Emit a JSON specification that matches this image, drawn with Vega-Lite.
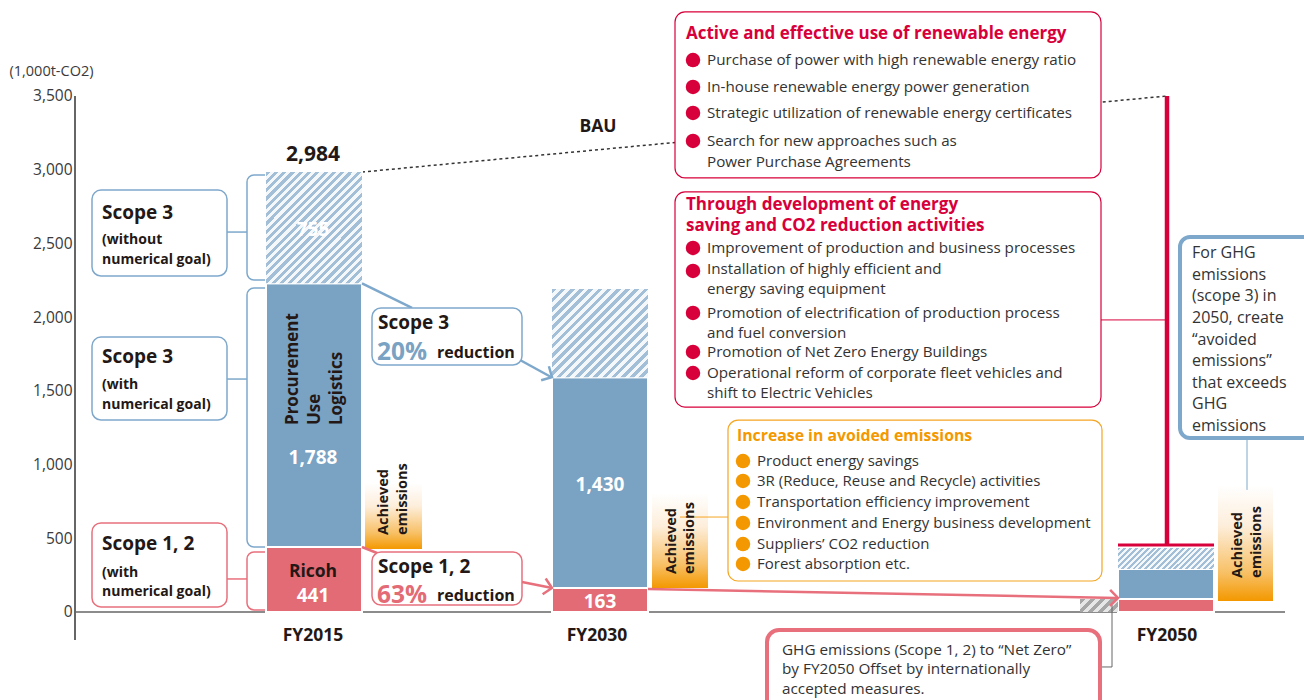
{
  "$schema": "https://vega.github.io/schema/vega-lite/v6.json",
  "width": 1229,
  "height": 700,
  "autosize": {"type": "none"},
  "padding": {"left": 75, "top": 0, "right": 0, "bottom": 0},
  "background": "white",
  "config": {
    "view": {"stroke": null},
    "text": {"font": "Open Sans"}
  },
  "datasets": {
    "bars": [
      {"year": "FY2015", "seg": "Scope 1, 2", "x": 266, "x2": 362, "y": 0, "y2": 441},
      {"year": "FY2015", "seg": "Scope 3 (with numerical goal)", "x": 266, "x2": 362, "y": 441, "y2": 2229},
      {"year": "FY2015", "seg": "Scope 3 (without numerical goal)", "x": 266, "x2": 362, "y": 2229, "y2": 2984},
      {"year": "FY2030", "seg": "Scope 1, 2", "x": 552, "x2": 648, "y": 0, "y2": 163},
      {"year": "FY2030", "seg": "Scope 3 (with numerical goal)", "x": 552, "x2": 648, "y": 163, "y2": 1593},
      {"year": "FY2030", "seg": "Scope 3 (without numerical goal)", "x": 552, "x2": 648, "y": 1593, "y2": 2190},
      {"year": "FY2050", "seg": "Scope 1, 2", "x": 1118, "x2": 1214, "y": 0, "y2": 88},
      {"year": "FY2050", "seg": "Scope 3 (with numerical goal)", "x": 1118, "x2": 1214, "y": 88, "y2": 292},
      {"year": "FY2050", "seg": "Scope 3 (without numerical goal)", "x": 1118, "x2": 1214, "y": 292, "y2": 434},
      {"year": "FY2050", "seg": "Offset", "x": 1080, "x2": 1118, "y": 0, "y2": 88}
    ]
  },
  "encoding": {
    "x": {"field": "x", "type": "quantitative", "scale": {"domain": [75, 1304], "nice": false, "zero": false}, "axis": null},
    "y": {"field": "y", "type": "quantitative", "scale": {"domain": [-597, 4151], "nice": false, "zero": false},
      "axis": {"values": [0, 500, 1000, 1500, 2000, 2500, 3000, 3500], "format": ",d", "domain": false, "ticks": false, "grid": false,
        "labelFont": "Open Sans", "labelFontSize": 15.5, "labelColor": "#3a3a3a", "labelPadding": 3,
        "title": "(1,000t-CO2)", "titleAngle": 0, "titleAlign": "left", "titleBaseline": "middle", "titleX": -66, "titleY": 71,
        "titleFont": "Open Sans", "titleFontSize": 14.5, "titleFontWeight": "normal", "titleColor": "#3a3a3a"}}
  },
  "layer": [
    {
      "data": {"values": [{"x": 75, "y": 3500, "x2": 75, "y2": -190}]},
      "mark": {"type": "rule", "color": "#333333", "strokeWidth": 1.5},
      "encoding": {"x2": {"field": "x2"}, "y2": {"field": "y2"}}
    },
    {
      "data": {"values": [{"x": 75, "y": 0, "x2": 1285, "y2": 0}]},
      "mark": {"type": "rule", "color": "#666666", "strokeWidth": 1.5},
      "encoding": {"x2": {"field": "x2"}, "y2": {"field": "y2"}}
    },
    {
      "data": {"values": [{"x": 247, "x2": 292, "y": 2964, "y2": 2252}, {"x": 247, "x2": 292, "y": 2198, "y2": 441}]},
      "mark": {"type": "rect", "fill": "white", "stroke": "#7ea8cb", "strokeWidth": 1.5, "cornerRadius": 7},
      "encoding": {"x2": {"field": "x2"}, "y2": {"field": "y2"}}
    },
    {
      "data": {"values": [{"x": 247, "x2": 292, "y": 407, "y2": 14}]},
      "mark": {"type": "rect", "fill": "white", "stroke": "#e8707d", "strokeWidth": 1.5, "cornerRadius": 7},
      "encoding": {"x2": {"field": "x2"}, "y2": {"field": "y2"}}
    },
    {
      "data": {"values": [{"x": 227, "y": 2577, "x2": 247, "y2": 2577}, {"x": 227, "y": 1580, "x2": 247, "y2": 1580}]},
      "mark": {"type": "rule", "color": "#7ea8cb", "strokeWidth": 1.5},
      "encoding": {"x2": {"field": "x2"}, "y2": {"field": "y2"}}
    },
    {
      "data": {"values": [{"x": 227, "y": 224, "x2": 247, "y2": 224}]},
      "mark": {"type": "rule", "color": "#e8707d", "strokeWidth": 1.5},
      "encoding": {"x2": {"field": "x2"}, "y2": {"field": "y2"}}
    },
    {
      "data": {"values": [{"x": 362, "y": 2984, "x2": 1167, "y2": 3500}]},
      "mark": {"type": "rule", "color": "#333333", "strokeWidth": 1.5, "strokeDash": [3, 3]},
      "encoding": {"x2": {"field": "x2"}, "y2": {"field": "y2"}}
    },
    {
      "data": {"name": "bars"},
      "transform": [{"filter": "datum.seg != 'Offset'"}],
      "mark": {"type": "rect", "stroke": "white", "strokeWidth": 2},
      "encoding": {
        "x2": {"field": "x2"}, "y2": {"field": "y2"},
        "color": {"field": "seg", "type": "nominal", "legend": null,
          "scale": {"domain": ["Scope 1, 2", "Scope 3 (with numerical goal)", "Scope 3 (without numerical goal)"], "range": ["#e36b75", "#79a2c3", "#c0d4e4"]}}
      }
    },
    {
      "data": {"name": "bars"},
      "transform": [{"filter": "datum.year == 'FY2015' && datum.seg == 'Scope 3 (without numerical goal)'"}],
      "mark": {"type": "rect", "fill": {"gradient": "linear", "x1": 0, "y1": 0, "x2": 0.9227, "y2": 1.0669, "stops": [
        {"offset": 0, "color": "#a3bfd7"}, {"offset": 0.02, "color": "#a3bfd7"}, {"offset": 0.02, "color": "#f4f8fb"}, {"offset": 0.04, "color": "#f4f8fb"},
        {"offset": 0.04, "color": "#a3bfd7"}, {"offset": 0.06, "color": "#a3bfd7"}, {"offset": 0.06, "color": "#f4f8fb"}, {"offset": 0.08, "color": "#f4f8fb"},
        {"offset": 0.08, "color": "#a3bfd7"}, {"offset": 0.1, "color": "#a3bfd7"}, {"offset": 0.1, "color": "#f4f8fb"}, {"offset": 0.12, "color": "#f4f8fb"},
        {"offset": 0.12, "color": "#a3bfd7"}, {"offset": 0.14, "color": "#a3bfd7"}, {"offset": 0.14, "color": "#f4f8fb"}, {"offset": 0.16, "color": "#f4f8fb"},
        {"offset": 0.16, "color": "#a3bfd7"}, {"offset": 0.18, "color": "#a3bfd7"}, {"offset": 0.18, "color": "#f4f8fb"}, {"offset": 0.2, "color": "#f4f8fb"},
        {"offset": 0.2, "color": "#a3bfd7"}, {"offset": 0.22, "color": "#a3bfd7"}, {"offset": 0.22, "color": "#f4f8fb"}, {"offset": 0.24, "color": "#f4f8fb"},
        {"offset": 0.24, "color": "#a3bfd7"}, {"offset": 0.26, "color": "#a3bfd7"}, {"offset": 0.26, "color": "#f4f8fb"}, {"offset": 0.28, "color": "#f4f8fb"},
        {"offset": 0.28, "color": "#a3bfd7"}, {"offset": 0.3, "color": "#a3bfd7"}, {"offset": 0.3, "color": "#f4f8fb"}, {"offset": 0.32, "color": "#f4f8fb"},
        {"offset": 0.32, "color": "#a3bfd7"}, {"offset": 0.34, "color": "#a3bfd7"}, {"offset": 0.34, "color": "#f4f8fb"}, {"offset": 0.36, "color": "#f4f8fb"},
        {"offset": 0.36, "color": "#a3bfd7"}, {"offset": 0.38, "color": "#a3bfd7"}, {"offset": 0.38, "color": "#f4f8fb"}, {"offset": 0.4, "color": "#f4f8fb"},
        {"offset": 0.4, "color": "#a3bfd7"}, {"offset": 0.42, "color": "#a3bfd7"}, {"offset": 0.42, "color": "#f4f8fb"}, {"offset": 0.44, "color": "#f4f8fb"},
        {"offset": 0.44, "color": "#a3bfd7"}, {"offset": 0.46, "color": "#a3bfd7"}, {"offset": 0.46, "color": "#f4f8fb"}, {"offset": 0.48, "color": "#f4f8fb"},
        {"offset": 0.48, "color": "#a3bfd7"}, {"offset": 0.5, "color": "#a3bfd7"}, {"offset": 0.5, "color": "#f4f8fb"}, {"offset": 0.52, "color": "#f4f8fb"},
        {"offset": 0.52, "color": "#a3bfd7"}, {"offset": 0.54, "color": "#a3bfd7"}, {"offset": 0.54, "color": "#f4f8fb"}, {"offset": 0.56, "color": "#f4f8fb"},
        {"offset": 0.56, "color": "#a3bfd7"}, {"offset": 0.58, "color": "#a3bfd7"}, {"offset": 0.58, "color": "#f4f8fb"}, {"offset": 0.6, "color": "#f4f8fb"},
        {"offset": 0.6, "color": "#a3bfd7"}, {"offset": 0.62, "color": "#a3bfd7"}, {"offset": 0.62, "color": "#f4f8fb"}, {"offset": 0.64, "color": "#f4f8fb"},
        {"offset": 0.64, "color": "#a3bfd7"}, {"offset": 0.66, "color": "#a3bfd7"}, {"offset": 0.66, "color": "#f4f8fb"}, {"offset": 0.68, "color": "#f4f8fb"},
        {"offset": 0.68, "color": "#a3bfd7"}, {"offset": 0.7, "color": "#a3bfd7"}, {"offset": 0.7, "color": "#f4f8fb"}, {"offset": 0.72, "color": "#f4f8fb"},
        {"offset": 0.72, "color": "#a3bfd7"}, {"offset": 0.74, "color": "#a3bfd7"}, {"offset": 0.74, "color": "#f4f8fb"}, {"offset": 0.76, "color": "#f4f8fb"},
        {"offset": 0.76, "color": "#a3bfd7"}, {"offset": 0.78, "color": "#a3bfd7"}, {"offset": 0.78, "color": "#f4f8fb"}, {"offset": 0.8, "color": "#f4f8fb"},
        {"offset": 0.8, "color": "#a3bfd7"}, {"offset": 0.82, "color": "#a3bfd7"}, {"offset": 0.82, "color": "#f4f8fb"}, {"offset": 0.84, "color": "#f4f8fb"},
        {"offset": 0.84, "color": "#a3bfd7"}, {"offset": 0.86, "color": "#a3bfd7"}, {"offset": 0.86, "color": "#f4f8fb"}, {"offset": 0.88, "color": "#f4f8fb"},
        {"offset": 0.88, "color": "#a3bfd7"}, {"offset": 0.9, "color": "#a3bfd7"}, {"offset": 0.9, "color": "#f4f8fb"}, {"offset": 0.92, "color": "#f4f8fb"},
        {"offset": 0.92, "color": "#a3bfd7"}, {"offset": 0.94, "color": "#a3bfd7"}, {"offset": 0.94, "color": "#f4f8fb"}, {"offset": 0.96, "color": "#f4f8fb"},
        {"offset": 0.96, "color": "#a3bfd7"}, {"offset": 0.98, "color": "#a3bfd7"}, {"offset": 0.98, "color": "#f4f8fb"}, {"offset": 1, "color": "#f4f8fb"}
      ]}},
      "encoding": {"x2": {"field": "x2"}, "y2": {"field": "y2"}}
    },
    {
      "data": {"name": "bars"},
      "transform": [{"filter": "datum.year == 'FY2030' && datum.seg == 'Scope 3 (without numerical goal)'"}],
      "mark": {"type": "rect", "fill": {"gradient": "linear", "x1": 0, "y1": 0, "x2": 1.0415, "y2": 0.9547, "stops": [
        {"offset": 0, "color": "#a3bfd7"}, {"offset": 0.025, "color": "#a3bfd7"}, {"offset": 0.025, "color": "#f4f8fb"}, {"offset": 0.05, "color": "#f4f8fb"},
        {"offset": 0.05, "color": "#a3bfd7"}, {"offset": 0.075, "color": "#a3bfd7"}, {"offset": 0.075, "color": "#f4f8fb"}, {"offset": 0.1, "color": "#f4f8fb"},
        {"offset": 0.1, "color": "#a3bfd7"}, {"offset": 0.125, "color": "#a3bfd7"}, {"offset": 0.125, "color": "#f4f8fb"}, {"offset": 0.15, "color": "#f4f8fb"},
        {"offset": 0.15, "color": "#a3bfd7"}, {"offset": 0.175, "color": "#a3bfd7"}, {"offset": 0.175, "color": "#f4f8fb"}, {"offset": 0.2, "color": "#f4f8fb"},
        {"offset": 0.2, "color": "#a3bfd7"}, {"offset": 0.225, "color": "#a3bfd7"}, {"offset": 0.225, "color": "#f4f8fb"}, {"offset": 0.25, "color": "#f4f8fb"},
        {"offset": 0.25, "color": "#a3bfd7"}, {"offset": 0.275, "color": "#a3bfd7"}, {"offset": 0.275, "color": "#f4f8fb"}, {"offset": 0.3, "color": "#f4f8fb"},
        {"offset": 0.3, "color": "#a3bfd7"}, {"offset": 0.325, "color": "#a3bfd7"}, {"offset": 0.325, "color": "#f4f8fb"}, {"offset": 0.35, "color": "#f4f8fb"},
        {"offset": 0.35, "color": "#a3bfd7"}, {"offset": 0.375, "color": "#a3bfd7"}, {"offset": 0.375, "color": "#f4f8fb"}, {"offset": 0.4, "color": "#f4f8fb"},
        {"offset": 0.4, "color": "#a3bfd7"}, {"offset": 0.425, "color": "#a3bfd7"}, {"offset": 0.425, "color": "#f4f8fb"}, {"offset": 0.45, "color": "#f4f8fb"},
        {"offset": 0.45, "color": "#a3bfd7"}, {"offset": 0.475, "color": "#a3bfd7"}, {"offset": 0.475, "color": "#f4f8fb"}, {"offset": 0.5, "color": "#f4f8fb"},
        {"offset": 0.5, "color": "#a3bfd7"}, {"offset": 0.525, "color": "#a3bfd7"}, {"offset": 0.525, "color": "#f4f8fb"}, {"offset": 0.55, "color": "#f4f8fb"},
        {"offset": 0.55, "color": "#a3bfd7"}, {"offset": 0.575, "color": "#a3bfd7"}, {"offset": 0.575, "color": "#f4f8fb"}, {"offset": 0.6, "color": "#f4f8fb"},
        {"offset": 0.6, "color": "#a3bfd7"}, {"offset": 0.625, "color": "#a3bfd7"}, {"offset": 0.625, "color": "#f4f8fb"}, {"offset": 0.65, "color": "#f4f8fb"},
        {"offset": 0.65, "color": "#a3bfd7"}, {"offset": 0.675, "color": "#a3bfd7"}, {"offset": 0.675, "color": "#f4f8fb"}, {"offset": 0.7, "color": "#f4f8fb"},
        {"offset": 0.7, "color": "#a3bfd7"}, {"offset": 0.725, "color": "#a3bfd7"}, {"offset": 0.725, "color": "#f4f8fb"}, {"offset": 0.75, "color": "#f4f8fb"},
        {"offset": 0.75, "color": "#a3bfd7"}, {"offset": 0.775, "color": "#a3bfd7"}, {"offset": 0.775, "color": "#f4f8fb"}, {"offset": 0.8, "color": "#f4f8fb"},
        {"offset": 0.8, "color": "#a3bfd7"}, {"offset": 0.825, "color": "#a3bfd7"}, {"offset": 0.825, "color": "#f4f8fb"}, {"offset": 0.85, "color": "#f4f8fb"},
        {"offset": 0.85, "color": "#a3bfd7"}, {"offset": 0.875, "color": "#a3bfd7"}, {"offset": 0.875, "color": "#f4f8fb"}, {"offset": 0.9, "color": "#f4f8fb"},
        {"offset": 0.9, "color": "#a3bfd7"}, {"offset": 0.925, "color": "#a3bfd7"}, {"offset": 0.925, "color": "#f4f8fb"}, {"offset": 0.95, "color": "#f4f8fb"},
        {"offset": 0.95, "color": "#a3bfd7"}, {"offset": 0.975, "color": "#a3bfd7"}, {"offset": 0.975, "color": "#f4f8fb"}, {"offset": 1, "color": "#f4f8fb"}
      ]}},
      "encoding": {"x2": {"field": "x2"}, "y2": {"field": "y2"}}
    },
    {
      "data": {"name": "bars"},
      "transform": [{"filter": "datum.year == 'FY2050' && datum.seg == 'Scope 3 (without numerical goal)'"}],
      "mark": {"type": "rect", "fill": {"gradient": "linear", "x1": 0, "y1": 0, "x2": 1.1631, "y2": 0.2544, "stops": [
        {"offset": 0, "color": "#a3bfd7"}, {"offset": 0.025, "color": "#a3bfd7"}, {"offset": 0.025, "color": "#f4f8fb"}, {"offset": 0.05, "color": "#f4f8fb"},
        {"offset": 0.05, "color": "#a3bfd7"}, {"offset": 0.075, "color": "#a3bfd7"}, {"offset": 0.075, "color": "#f4f8fb"}, {"offset": 0.1, "color": "#f4f8fb"},
        {"offset": 0.1, "color": "#a3bfd7"}, {"offset": 0.125, "color": "#a3bfd7"}, {"offset": 0.125, "color": "#f4f8fb"}, {"offset": 0.15, "color": "#f4f8fb"},
        {"offset": 0.15, "color": "#a3bfd7"}, {"offset": 0.175, "color": "#a3bfd7"}, {"offset": 0.175, "color": "#f4f8fb"}, {"offset": 0.2, "color": "#f4f8fb"},
        {"offset": 0.2, "color": "#a3bfd7"}, {"offset": 0.225, "color": "#a3bfd7"}, {"offset": 0.225, "color": "#f4f8fb"}, {"offset": 0.25, "color": "#f4f8fb"},
        {"offset": 0.25, "color": "#a3bfd7"}, {"offset": 0.275, "color": "#a3bfd7"}, {"offset": 0.275, "color": "#f4f8fb"}, {"offset": 0.3, "color": "#f4f8fb"},
        {"offset": 0.3, "color": "#a3bfd7"}, {"offset": 0.325, "color": "#a3bfd7"}, {"offset": 0.325, "color": "#f4f8fb"}, {"offset": 0.35, "color": "#f4f8fb"},
        {"offset": 0.35, "color": "#a3bfd7"}, {"offset": 0.375, "color": "#a3bfd7"}, {"offset": 0.375, "color": "#f4f8fb"}, {"offset": 0.4, "color": "#f4f8fb"},
        {"offset": 0.4, "color": "#a3bfd7"}, {"offset": 0.425, "color": "#a3bfd7"}, {"offset": 0.425, "color": "#f4f8fb"}, {"offset": 0.45, "color": "#f4f8fb"},
        {"offset": 0.45, "color": "#a3bfd7"}, {"offset": 0.475, "color": "#a3bfd7"}, {"offset": 0.475, "color": "#f4f8fb"}, {"offset": 0.5, "color": "#f4f8fb"},
        {"offset": 0.5, "color": "#a3bfd7"}, {"offset": 0.525, "color": "#a3bfd7"}, {"offset": 0.525, "color": "#f4f8fb"}, {"offset": 0.55, "color": "#f4f8fb"},
        {"offset": 0.55, "color": "#a3bfd7"}, {"offset": 0.575, "color": "#a3bfd7"}, {"offset": 0.575, "color": "#f4f8fb"}, {"offset": 0.6, "color": "#f4f8fb"},
        {"offset": 0.6, "color": "#a3bfd7"}, {"offset": 0.625, "color": "#a3bfd7"}, {"offset": 0.625, "color": "#f4f8fb"}, {"offset": 0.65, "color": "#f4f8fb"},
        {"offset": 0.65, "color": "#a3bfd7"}, {"offset": 0.675, "color": "#a3bfd7"}, {"offset": 0.675, "color": "#f4f8fb"}, {"offset": 0.7, "color": "#f4f8fb"},
        {"offset": 0.7, "color": "#a3bfd7"}, {"offset": 0.725, "color": "#a3bfd7"}, {"offset": 0.725, "color": "#f4f8fb"}, {"offset": 0.75, "color": "#f4f8fb"},
        {"offset": 0.75, "color": "#a3bfd7"}, {"offset": 0.775, "color": "#a3bfd7"}, {"offset": 0.775, "color": "#f4f8fb"}, {"offset": 0.8, "color": "#f4f8fb"},
        {"offset": 0.8, "color": "#a3bfd7"}, {"offset": 0.825, "color": "#a3bfd7"}, {"offset": 0.825, "color": "#f4f8fb"}, {"offset": 0.85, "color": "#f4f8fb"},
        {"offset": 0.85, "color": "#a3bfd7"}, {"offset": 0.875, "color": "#a3bfd7"}, {"offset": 0.875, "color": "#f4f8fb"}, {"offset": 0.9, "color": "#f4f8fb"},
        {"offset": 0.9, "color": "#a3bfd7"}, {"offset": 0.925, "color": "#a3bfd7"}, {"offset": 0.925, "color": "#f4f8fb"}, {"offset": 0.95, "color": "#f4f8fb"},
        {"offset": 0.95, "color": "#a3bfd7"}, {"offset": 0.975, "color": "#a3bfd7"}, {"offset": 0.975, "color": "#f4f8fb"}, {"offset": 1, "color": "#f4f8fb"}
      ]}},
      "encoding": {"x2": {"field": "x2"}, "y2": {"field": "y2"}}
    },
    {
      "data": {"name": "bars"},
      "transform": [{"filter": "datum.seg == 'Offset'"}],
      "mark": {"type": "rect", "fill": {"gradient": "linear", "x1": 0, "y1": 0, "x2": 1.2015, "y2": 0.411, "stops": [
        {"offset": 0, "color": "#a6a6a6"}, {"offset": 0.1, "color": "#a6a6a6"}, {"offset": 0.1, "color": "#e6e6e6"}, {"offset": 0.2, "color": "#e6e6e6"},
        {"offset": 0.2, "color": "#a6a6a6"}, {"offset": 0.3, "color": "#a6a6a6"}, {"offset": 0.3, "color": "#e6e6e6"}, {"offset": 0.4, "color": "#e6e6e6"},
        {"offset": 0.4, "color": "#a6a6a6"}, {"offset": 0.5, "color": "#a6a6a6"}, {"offset": 0.5, "color": "#e6e6e6"}, {"offset": 0.6, "color": "#e6e6e6"},
        {"offset": 0.6, "color": "#a6a6a6"}, {"offset": 0.7, "color": "#a6a6a6"}, {"offset": 0.7, "color": "#e6e6e6"}, {"offset": 0.8, "color": "#e6e6e6"},
        {"offset": 0.8, "color": "#a6a6a6"}, {"offset": 0.9, "color": "#a6a6a6"}, {"offset": 0.9, "color": "#e6e6e6"}, {"offset": 1, "color": "#e6e6e6"}
      ]}},
      "encoding": {"x2": {"field": "x2"}, "y2": {"field": "y2"}}
    },
    {
      "data": {"values": [
        {"x": 365, "x2": 422, "y": 875, "y2": 427},
        {"x": 652, "x2": 708, "y": 807, "y2": 163},
        {"x": 1218, "x2": 1273, "y": 861, "y2": 75}
      ]},
      "mark": {"type": "rect", "fill": {"gradient": "linear", "x1": 0, "y1": 0, "x2": 0, "y2": 1,
        "stops": [{"offset": 0, "color": "#ffffff"}, {"offset": 0.35, "color": "#fdeedb"}, {"offset": 0.75, "color": "#f8c168"}, {"offset": 1, "color": "#f39800"}]}},
      "encoding": {"x2": {"field": "x2"}, "y2": {"field": "y2"}}
    },
    {
      "data": {"values": [{"x": 362, "y": 2229, "x2": 412, "y2": 2062}, {"x": 520, "y": 1709, "x2": 551, "y2": 1594}]},
      "mark": {"type": "rule", "color": "#7ea8cb", "strokeWidth": 2.5},
      "encoding": {"x2": {"field": "x2"}, "y2": {"field": "y2"}}
    },
    {
      "data": {"values": [{"x": 362, "y": 441, "x2": 377, "y2": 400}, {"x": 522, "y": 204, "x2": 551, "y2": 164}, {"x": 648, "y": 156, "x2": 1117, "y2": 95}]},
      "mark": {"type": "rule", "color": "#e8707d", "strokeWidth": 2.5},
      "encoding": {"x2": {"field": "x2"}, "y2": {"field": "y2"}}
    },
    {
      "data": {"values": [{"x": 1167, "y": 452, "x2": 1167, "y2": 3500}]},
      "mark": {"type": "rule", "color": "#d7003a", "strokeWidth": 4.5},
      "encoding": {"x2": {"field": "x2"}, "y2": {"field": "y2"}}
    },
    {
      "data": {"values": [{"x": 1118, "y": 454, "x2": 1214, "y2": 454}]},
      "mark": {"type": "rule", "color": "#d7003a", "strokeWidth": 3},
      "encoding": {"x2": {"field": "x2"}, "y2": {"field": "y2"}}
    },
    {
      "data": {"values": [{"x": 1101, "y": 1981, "x2": 1167, "y2": 1981}]},
      "mark": {"type": "rule", "color": "#d7003a", "strokeWidth": 1},
      "encoding": {"x2": {"field": "x2"}, "y2": {"field": "y2"}}
    },
    {
      "data": {"values": [{"x": 680, "y": 644, "x2": 728, "y2": 644}]},
      "mark": {"type": "rule", "color": "#f5a623", "strokeWidth": 1},
      "encoding": {"x2": {"field": "x2"}, "y2": {"field": "y2"}}
    },
    {
      "data": {"values": [{"x": 1247, "y": 1180, "x2": 1247, "y2": 828}]},
      "mark": {"type": "rule", "color": "#7ea8cb", "strokeWidth": 1},
      "encoding": {"x2": {"field": "x2"}, "y2": {"field": "y2"}}
    },
    {
      "data": {"values": [{"x": 1112, "y": 47, "x2": 1112, "y2": -373}, {"x": 1112, "y": -373, "x2": 1100, "y2": -373}]},
      "mark": {"type": "rule", "color": "#666666", "strokeWidth": 1},
      "encoding": {"x2": {"field": "x2"}, "y2": {"field": "y2"}}
    },
    {
      "data": {"values": [{"x": 675, "x2": 1101, "y": 4070, "y2": 2944}, {"x": 675, "x2": 1101, "y": 2849, "y2": 1390}]},
      "mark": {"type": "rect", "fill": "white", "stroke": "#d7003a", "strokeWidth": 1.2, "cornerRadius": 10},
      "encoding": {"x2": {"field": "x2"}, "y2": {"field": "y2"}}
    },
    {
      "data": {"values": [{"x": 728, "x2": 1102, "y": 1302, "y2": 210}]},
      "mark": {"type": "rect", "fill": "white", "stroke": "#f5a623", "strokeWidth": 1.2, "cornerRadius": 10},
      "encoding": {"x2": {"field": "x2"}, "y2": {"field": "y2"}}
    },
    {
      "data": {"values": [{"x": 92, "x2": 227, "y": 2862, "y2": 2279}, {"x": 92, "x2": 227, "y": 1865, "y2": 1302}, {"x": 372, "x2": 522, "y": 2062, "y2": 1675}]},
      "mark": {"type": "rect", "fill": "white", "stroke": "#7ea8cb", "strokeWidth": 1.5, "cornerRadius": 9},
      "encoding": {"x2": {"field": "x2"}, "y2": {"field": "y2"}}
    },
    {
      "data": {"values": [{"x": 92, "x2": 227, "y": 604, "y2": 34}, {"x": 372, "x2": 522, "y": 407, "y2": 47}]},
      "mark": {"type": "rect", "fill": "white", "stroke": "#e8707d", "strokeWidth": 1.5, "cornerRadius": 9},
      "encoding": {"x2": {"field": "x2"}, "y2": {"field": "y2"}}
    },
    {
      "data": {"values": [{"x": 1180, "x2": 1340, "y": 2544, "y2": 1180}]},
      "mark": {"type": "rect", "fill": "white", "stroke": "#7ea8cb", "strokeWidth": 4, "cornerRadius": 10},
      "encoding": {"x2": {"field": "x2"}, "y2": {"field": "y2"}}
    },
    {
      "data": {"values": [{"x": 767, "x2": 1100, "y": -122, "y2": -800}]},
      "mark": {"type": "rect", "fill": "white", "stroke": "#e8707d", "strokeWidth": 4, "cornerRadius": 12},
      "encoding": {"x2": {"field": "x2"}, "y2": {"field": "y2"}}
    },
    {
      "data": {"values": [{"x": 552, "y": 1593, "angle": 29}]},
      "mark": {"type": "point", "shape": "M-1,-1L0,0L-1,1", "filled": false, "size": 256, "color": "#7ea8cb", "strokeWidth": 2.5, "opacity": 1},
      "encoding": {"angle": {"field": "angle", "type": "quantitative", "scale": null}}
    },
    {
      "data": {"values": [{"x": 552, "y": 163, "angle": 11}, {"x": 1118, "y": 95, "angle": 1}]},
      "mark": {"type": "point", "shape": "M-1,-1L0,0L-1,1", "filled": false, "size": 256, "color": "#e8707d", "strokeWidth": 2.5, "opacity": 1},
      "encoding": {"angle": {"field": "angle", "type": "quantitative", "scale": null}}
    },
    {
      "data": {"values": [
        {"x": 693, "y": 3744}, {"x": 693, "y": 3561}, {"x": 693, "y": 3385}, {"x": 693, "y": 3195},
        {"x": 693, "y": 2469}, {"x": 693, "y": 2313}, {"x": 693, "y": 2028}, {"x": 693, "y": 1764}, {"x": 693, "y": 1621}
      ]},
      "mark": {"type": "point", "shape": "circle", "filled": true, "size": 210, "color": "#d7003a", "opacity": 1}
    },
    {
      "data": {"values": [
        {"x": 743, "y": 1024}, {"x": 743, "y": 889}, {"x": 743, "y": 746}, {"x": 743, "y": 604}, {"x": 743, "y": 461}, {"x": 743, "y": 326}
      ]},
      "mark": {"type": "point", "shape": "circle", "filled": true, "size": 210, "color": "#f39800", "opacity": 1}
    },
    {
      "data": {"values": [
        {"x": 102, "y": 2706, "t": "Scope 3"}, {"x": 102, "y": 1730, "t": "Scope 3"}, {"x": 102, "y": 461, "t": "Scope 1, 2"},
        {"x": 378, "y": 1960, "t": "Scope 3"}, {"x": 378, "y": 305, "t": "Scope 1, 2"}
      ]},
      "mark": {"type": "text", "font": "Open Sans", "fontSize": 19, "fontWeight": "bold", "color": "#231815", "align": "left", "baseline": "middle"},
      "encoding": {"text": {"field": "t"}}
    },
    {
      "data": {"values": [
        {"x": 102, "y": 2523, "t": "(without"}, {"x": 102, "y": 2388, "t": "numerical goal)"},
        {"x": 102, "y": 1540, "t": "(with"}, {"x": 102, "y": 1404, "t": "numerical goal)"},
        {"x": 102, "y": 265, "t": "(with"}, {"x": 102, "y": 136, "t": "numerical goal)"}
      ]},
      "mark": {"type": "text", "font": "Open Sans", "fontSize": 14, "fontWeight": "bold", "color": "#231815", "align": "left", "baseline": "middle"},
      "encoding": {"text": {"field": "t"}}
    },
    {
      "data": {"values": [{"x": 377, "y": 1760, "t": "20%"}]},
      "mark": {"type": "text", "font": "Open Sans", "fontSize": 24.5, "fontWeight": "bold", "color": "#79a2c3", "align": "left", "baseline": "middle"},
      "encoding": {"text": {"field": "t"}}
    },
    {
      "data": {"values": [{"x": 377, "y": 111, "t": "63%"}]},
      "mark": {"type": "text", "font": "Open Sans", "fontSize": 24.5, "fontWeight": "bold", "color": "#e36b75", "align": "left", "baseline": "middle"},
      "encoding": {"text": {"field": "t"}}
    },
    {
      "data": {"values": [{"x": 437, "y": 1757, "t": "reduction"}, {"x": 437, "y": 108, "t": "reduction"}]},
      "mark": {"type": "text", "font": "Open Sans", "fontSize": 16, "fontWeight": "bold", "color": "#231815", "align": "left", "baseline": "middle"},
      "encoding": {"text": {"field": "t"}}
    },
    {
      "data": {"values": [
        {"x": 686, "y": 3920, "t": "Active and effective use of renewable energy"},
        {"x": 686, "y": 2761, "t": "Through development of energy"},
        {"x": 686, "y": 2618, "t": "saving and CO2 reduction activities"}
      ]},
      "mark": {"type": "text", "font": "Open Sans", "fontSize": 17, "fontWeight": "bold", "color": "#d7003a", "align": "left", "baseline": "middle"},
      "encoding": {"text": {"field": "t"}}
    },
    {
      "data": {"values": [{"x": 737, "y": 1194, "t": "Increase in avoided emissions"}]},
      "mark": {"type": "text", "font": "Open Sans", "fontSize": 15.8, "fontWeight": "bold", "color": "#f39800", "align": "left", "baseline": "middle"},
      "encoding": {"text": {"field": "t"}}
    },
    {
      "data": {"values": [
        {"x": 707, "y": 3744, "t": "Purchase of power with high renewable energy ratio"},
        {"x": 707, "y": 3561, "t": "In-house renewable energy power generation"},
        {"x": 707, "y": 3385, "t": "Strategic utilization of renewable energy certificates"},
        {"x": 707, "y": 3195, "t": "Search for new approaches such as"},
        {"x": 707, "y": 3052, "t": "Power Purchase Agreements"},
        {"x": 707, "y": 2469, "t": "Improvement of production and business processes"},
        {"x": 707, "y": 2325, "t": "Installation of highly efficient and"},
        {"x": 707, "y": 2191, "t": "energy saving equipment"},
        {"x": 707, "y": 2028, "t": "Promotion of electrification of production process"},
        {"x": 707, "y": 1892, "t": "and fuel conversion"},
        {"x": 707, "y": 1764, "t": "Promotion of Net Zero Energy Buildings"},
        {"x": 707, "y": 1621, "t": "Operational reform of corporate fleet vehicles and"},
        {"x": 707, "y": 1485, "t": "shift to Electric Vehicles"}
      ]},
      "mark": {"type": "text", "font": "Open Sans", "fontSize": 15.2, "color": "#333333", "align": "left", "baseline": "middle"},
      "encoding": {"text": {"field": "t"}}
    },
    {
      "data": {"values": [
        {"x": 757, "y": 1024, "t": "Product energy savings"},
        {"x": 757, "y": 889, "t": "3R (Reduce, Reuse and Recycle) activities"},
        {"x": 757, "y": 746, "t": "Transportation efficiency improvement"},
        {"x": 757, "y": 604, "t": "Environment and Energy business development"},
        {"x": 757, "y": 461, "t": "Suppliers’ CO2 reduction"},
        {"x": 757, "y": 326, "t": "Forest absorption etc."}
      ]},
      "mark": {"type": "text", "font": "Open Sans", "fontSize": 15, "color": "#333333", "align": "left", "baseline": "middle"},
      "encoding": {"text": {"field": "t"}}
    },
    {
      "data": {"values": [
        {"x": 1192, "y": 2435, "t": "For GHG"},
        {"x": 1192, "y": 2286, "t": "emissions"},
        {"x": 1192, "y": 2143, "t": "(scope 3) in"},
        {"x": 1192, "y": 1994, "t": "2050, create"},
        {"x": 1192, "y": 1845, "t": "“avoided"},
        {"x": 1192, "y": 1702, "t": "emissions”"},
        {"x": 1192, "y": 1553, "t": "that exceeds"},
        {"x": 1192, "y": 1411, "t": "GHG"},
        {"x": 1192, "y": 1262, "t": "emissions"}
      ]},
      "mark": {"type": "text", "font": "Open Sans", "fontSize": 16, "color": "#333333", "align": "left", "baseline": "middle"},
      "encoding": {"text": {"field": "t"}}
    },
    {
      "data": {"values": [
        {"x": 782, "y": -258, "t": "GHG emissions (Scope 1, 2) to “Net Zero”"},
        {"x": 782, "y": -387, "t": "by FY2050 Offset by internationally"},
        {"x": 782, "y": -522, "t": "accepted measures."}
      ]},
      "mark": {"type": "text", "font": "Open Sans", "fontSize": 15.3, "color": "#333333", "align": "left", "baseline": "middle"},
      "encoding": {"text": {"field": "t"}}
    },
    {
      "data": {"values": [
        {"x": 313, "y": 2591, "t": "755"}, {"x": 313, "y": 1045, "t": "1,788"}, {"x": 313, "y": 108, "t": "441"},
        {"x": 600, "y": 861, "t": "1,430"}, {"x": 600, "y": 68, "t": "163"}
      ]},
      "mark": {"type": "text", "font": "Open Sans", "fontSize": 19, "fontWeight": "bold", "color": "white", "align": "center", "baseline": "middle"},
      "encoding": {"text": {"field": "t"}}
    },
    {
      "data": {"values": [
        {"x": 313, "y": 271, "t": "Ricoh"}, {"x": 598, "y": 3290, "t": "BAU"},
        {"x": 313, "y": -163, "t": "FY2015"}, {"x": 597, "y": -163, "t": "FY2030"}, {"x": 1167, "y": -163, "t": "FY2050"}
      ]},
      "mark": {"type": "text", "font": "Open Sans", "fontSize": 17.5, "fontWeight": "bold", "color": "#231815", "align": "center", "baseline": "middle"},
      "encoding": {"text": {"field": "t"}}
    },
    {
      "data": {"values": [{"x": 313, "y": 3100, "t": "2,984"}]},
      "mark": {"type": "text", "font": "Open Sans", "fontSize": 21, "fontWeight": "bold", "color": "#231815", "align": "center", "baseline": "middle"},
      "encoding": {"text": {"field": "t"}}
    },
    {
      "data": {"values": [{"x": 293, "y": 1268, "t": "Procurement"}, {"x": 315, "y": 1268, "t": "Use"}, {"x": 337, "y": 1268, "t": "Logistics"}]},
      "mark": {"type": "text", "font": "Open Sans", "fontSize": 17, "fontWeight": "bold", "color": "#231815", "align": "left", "baseline": "middle", "angle": 270},
      "encoding": {"text": {"field": "t"}}
    },
    {
      "data": {"values": [
        {"x": 384, "y": 522, "t": "Achieved"}, {"x": 403, "y": 522, "t": "emissions"},
        {"x": 672, "y": 258, "t": "Achieved"}, {"x": 690, "y": 258, "t": "emissions"},
        {"x": 1238, "y": 231, "t": "Achieved"}, {"x": 1257, "y": 231, "t": "emissions"}
      ]},
      "mark": {"type": "text", "font": "Open Sans", "fontSize": 14.5, "fontWeight": "bold", "color": "#231815", "align": "left", "baseline": "middle", "angle": 270},
      "encoding": {"text": {"field": "t"}}
    }
  ]
}
